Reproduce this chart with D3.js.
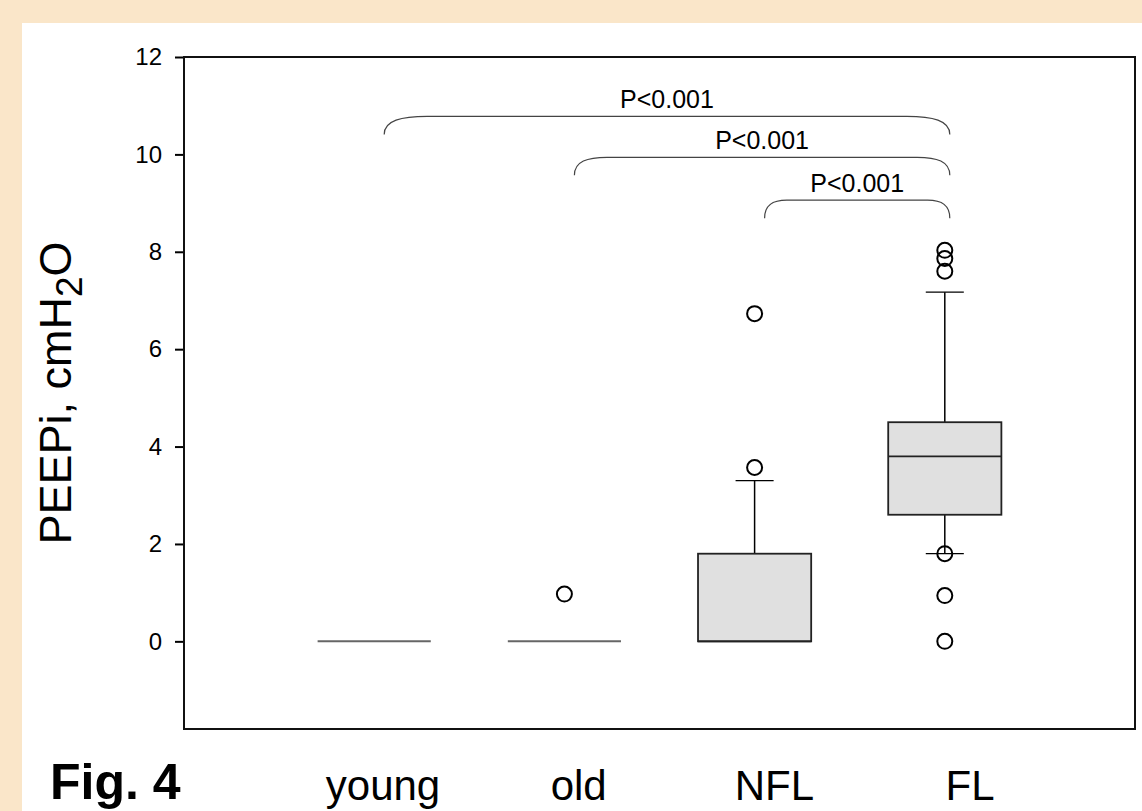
<!DOCTYPE html>
<html>
<head>
<meta charset="utf-8">
<script src="https://cdn.jsdelivr.net/npm/d3@7"></script>
<style>
  body { margin: 0; background: #fae6c9; }
  svg { display: block; font-family: "Liberation Sans", Arial, sans-serif; }
</style>
</head>
<body>
<div id="plot"></div>
<script>
// Box plot summary per group (cmH2O)
const groups = ["young", "old", "NFL", "FL"];
const q1 = [0, 0, 0, 2.6];
const median = [0, 0, 0, 3.8];
const q3 = [0, 0, 1.8, 4.5];
const whiskLo = [0, 0, 0, 1.8];
const whiskHi = [0, 0, 3.3, 7.17];
const outliers = [[], [0.97], [3.57, 6.73], [0, 0.94, 1.8, 7.6, 7.86, 8.03]];

// Significance brackets
const bracketFrom = ["young", "old", "NFL"];
const bracketTo = ["FL", "FL", "FL"];
const bracketLevel = [10.78, 9.94, 9.06];
const bracketLabel = ["P<0.001", "P<0.001", "P<0.001"];

const yTicks = [0, 2, 4, 6, 8, 10, 12];

const width = 1142, height = 811;
const plotLeft = 184, plotRight = 1135, plotTop = 57, plotBottom = 729;

const svg = d3.select("#plot")
    .append("svg")
    .attr("width", width)
    .attr("height", height);

// slide background: beige with white panel
svg.append("rect")
    .attr("width", width).attr("height", height)
    .attr("fill", "#fae6c9");
svg.append("rect")
    .attr("x", 22).attr("y", 23)
    .attr("width", width - 22).attr("height", height - 23)
    .attr("fill", "#fff");

const x = d3.scalePoint()
    .domain(groups)
    .range([plotLeft, plotRight])
    .padding(1);

const y = d3.scaleLinear()
    .domain([-1.8, 12])
    .range([plotBottom, plotTop]);

const boxW = x.step() * 0.595;
const capW = x.step() * 0.2;

// y axis
const yAxis = svg.append("g")
    .attr("transform", `translate(${plotLeft},0)`)
    .call(d3.axisLeft(y).tickValues(yTicks).tickSize(9).tickPadding(13));
yAxis.select(".domain").remove();
yAxis.selectAll(".tick line").attr("stroke", "#000").attr("stroke-width", 2);
yAxis.selectAll(".tick text")
    .attr("fill", "#000")
    .style("font-size", "24px")
    .style("font-family", "'Liberation Sans', Arial, sans-serif");

// boxes
groups.forEach((g, i) => {
    const cx = x(g);
    const gEl = svg.append("g");

    // whiskers
    if (whiskHi[i] > q3[i]) {
        gEl.append("line")
            .attr("x1", cx).attr("x2", cx)
            .attr("y1", y(q3[i])).attr("y2", y(whiskHi[i]))
            .attr("stroke", "#000").attr("stroke-width", 1.5);
        gEl.append("line")
            .attr("x1", cx - capW / 2).attr("x2", cx + capW / 2)
            .attr("y1", y(whiskHi[i])).attr("y2", y(whiskHi[i]))
            .attr("stroke", "#000").attr("stroke-width", 1.2);
    }
    if (whiskLo[i] < q1[i]) {
        gEl.append("line")
            .attr("x1", cx).attr("x2", cx)
            .attr("y1", y(q1[i])).attr("y2", y(whiskLo[i]))
            .attr("stroke", "#000").attr("stroke-width", 1.5);
        gEl.append("line")
            .attr("x1", cx - capW / 2).attr("x2", cx + capW / 2)
            .attr("y1", y(whiskLo[i])).attr("y2", y(whiskLo[i]))
            .attr("stroke", "#000").attr("stroke-width", 1.2);
    }

    if (q3[i] > q1[i]) {
        gEl.append("rect")
            .attr("x", cx - boxW / 2)
            .attr("y", y(q3[i]))
            .attr("width", boxW)
            .attr("height", y(q1[i]) - y(q3[i]))
            .attr("fill", "#e0e0e0")
            .attr("stroke", "#222")
            .attr("stroke-width", 1.8);
        gEl.append("line")
            .attr("x1", cx - boxW / 2).attr("x2", cx + boxW / 2)
            .attr("y1", y(median[i])).attr("y2", y(median[i]))
            .attr("stroke", "#222").attr("stroke-width", 1.8);
    } else {
        // collapsed box: only a flat line
        gEl.append("line")
            .attr("x1", cx - boxW / 2).attr("x2", cx + boxW / 2)
            .attr("y1", y(median[i])).attr("y2", y(median[i]))
            .attr("stroke", "#666").attr("stroke-width", 2);
    }

    gEl.selectAll("circle")
        .data(outliers[i])
        .enter()
        .append("circle")
        .attr("cx", cx)
        .attr("cy", d => y(d))
        .attr("r", 7.5)
        .attr("fill", "none")
        .attr("stroke", "#000")
        .attr("stroke-width", 2);
});

// frame
svg.append("rect")
    .attr("x", plotLeft).attr("y", plotTop)
    .attr("width", plotRight - plotLeft).attr("height", plotBottom - plotTop)
    .attr("fill", "none")
    .attr("stroke", "#111")
    .attr("stroke-width", 2);

// significance brackets
bracketFrom.forEach((from, i) => {
    const x0 = x(from) + 10, x1 = x(bracketTo[i]) + 5;
    const yt = y(bracketLevel[i]), yb = yt + 18;
    const r = 12 + 0.055 * (x1 - x0);
    svg.append("path")
        .attr("d", `M${x0},${yb} C${x0},${yt + 4} ${x0 + r * 0.4},${yt} ${x0 + r},${yt} ` +
                   `L${x1 - r},${yt} C${x1 - r * 0.4},${yt} ${x1},${yt + 4} ${x1},${yb}`)
        .attr("fill", "none")
        .attr("stroke", "#444")
        .attr("stroke-width", 1.2);
    svg.append("text")
        .attr("x", (x0 + x1) / 2)
        .attr("y", yt - 8)
        .attr("text-anchor", "middle")
        .style("font-size", "25px")
        .text(bracketLabel[i]);
});

// y axis title
const yTitle = svg.append("text")
    .attr("transform", "translate(71,393) rotate(-90)")
    .attr("text-anchor", "middle")
    .style("font-size", "45px");
yTitle.append("tspan").text("PEEPi, cmH");
yTitle.append("tspan").attr("dy", 11).style("font-size", "37px").text("2");
yTitle.append("tspan").attr("dy", -11).text("O");

// slide labels below the chart
const labelX = d3.scalePoint().domain(groups).range([383, 970]);
svg.selectAll(".grp")
    .data(groups)
    .enter()
    .append("text")
    .attr("class", "grp")
    .attr("x", d => labelX(d))
    .attr("y", 800)
    .attr("text-anchor", "middle")
    .style("font-size", "42px")
    .text(d => d);

svg.append("text")
    .attr("x", 50)
    .attr("y", 799)
    .style("font-size", "50px")
    .style("font-weight", "bold")
    .text("Fig. 4");
</script>
</body>
</html>
